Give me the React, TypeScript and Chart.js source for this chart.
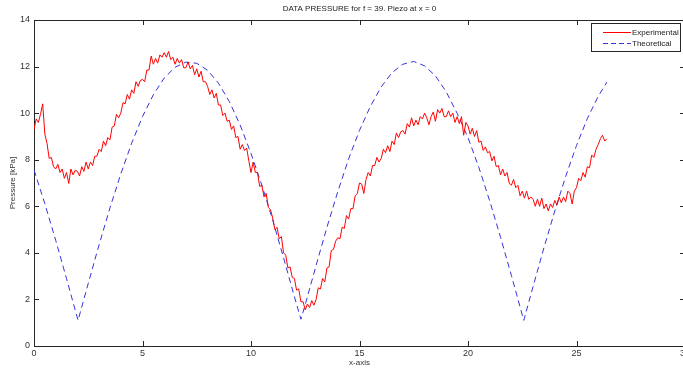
import { useEffect, useRef } from "react";
import { Chart, registerables } from "chart.js";

Chart.register(...registerables);

const chartTitle = "DATA PRESSURE for f = 39. Piezo at x = 0";
const xAxisTitle = "x-axis";
const yAxisTitle = "Pressure [kPa]";
const seriesNames = ["Experimental", "Theoretical"];
const xTickValues = [0, 5, 10, 15, 20, 25, 30];
const yTickValues = [0, 2, 4, 6, 8, 10, 12, 14];

// Experimental samples, one every 0.1 on the x-axis starting at 0
const expStep = 0.1;
const experimentalValues = [
  9.3, 9.75, 9.6, 9.95, 10.4, 9.1, 8.7, 8.05, 8.1, 7.7,
  7.6, 7.8, 7.45, 7.6, 7.2, 7.45, 6.98, 7.6, 7.35, 7.55,
  7.5, 7.3, 7.7, 7.5, 7.9, 7.6, 7.9, 7.75, 8.15, 8.15,
  8.45, 8.35, 8.8, 8.6, 8.95, 8.85, 9.4, 9.45, 9.95, 9.8,
  10.0, 10.45, 10.4, 10.8, 10.6, 11.0, 10.85, 11.35, 11.15, 11.4,
  11.45, 11.35, 11.85, 11.85, 12.45, 12.1, 12.35, 12.15, 12.5, 12.4,
  12.6, 12.4, 12.65, 12.3, 12.4, 12.1, 12.35, 12.15, 12.3, 11.95,
  11.95, 12.2, 11.9, 12.05, 11.65, 11.9, 11.55, 11.8, 11.35, 11.35,
  11.15, 10.8, 11.0, 10.65, 10.85, 10.35, 10.35, 9.9, 10.0, 9.65,
  9.7, 9.3, 9.45, 8.95, 9.0, 8.45, 8.65, 8.4, 8.5, 7.95,
  7.45, 7.9, 7.45, 7.45, 6.85, 6.9, 6.4, 6.55, 5.95, 5.85,
  5.5, 5.0, 5.1, 4.6, 4.7, 4.0, 3.9, 3.35, 3.4, 2.95,
  2.9, 2.4, 2.45, 1.9, 1.9, 1.55, 1.8, 1.65, 1.95, 1.75,
  2.0, 2.5, 2.45, 2.9, 2.75, 3.35, 3.4, 4.1, 4.15, 4.5,
  4.65, 4.6, 5.1, 5.05, 5.6, 5.45, 5.9, 5.9, 6.45, 6.55,
  7.0, 6.95, 6.55, 7.15, 7.45, 7.3, 7.75, 7.75, 8.1, 7.9,
  8.05, 8.45, 8.3, 8.6, 8.35, 8.8, 8.65, 9.15, 8.95, 9.2,
  9.25, 9.1, 9.55, 9.4, 9.8, 9.45, 9.7, 9.5, 9.85, 9.75,
  10.0, 9.8, 9.5, 9.85, 10.05, 9.65, 10.15, 10.0, 10.2, 9.85,
  9.85, 10.1, 9.85, 10.0, 9.6, 9.85, 9.55, 9.85, 9.05, 9.6,
  9.45, 9.1, 9.35, 9.0, 9.25, 8.75, 8.8, 8.4, 8.55, 8.3,
  8.35, 7.95, 8.15, 7.7, 7.75, 7.35, 7.6, 7.3, 7.45, 7.0,
  6.9, 7.15, 6.8, 6.9, 6.45, 6.65, 6.35, 6.65, 6.3, 6.4,
  6.3, 6.0, 6.3, 6.0, 6.35, 5.9, 6.1, 5.8, 6.1, 5.95,
  6.25, 6.05, 6.4, 6.15, 6.4, 6.2, 6.65, 6.55, 6.1, 6.65,
  6.8, 7.2, 7.1, 7.45, 7.25, 7.7, 7.65, 8.2, 8.1, 8.45,
  8.65, 8.9, 9.05, 8.8, 8.9,
];

const theoreticalX = [
  0, 0.5, 1, 1.5, 2.03, 2.5, 3, 3.5, 4, 4.5, 5, 5.5, 6, 6.5, 7, 7.5, 8, 8.5, 9, 9.5,
  10, 10.5, 11, 11.5, 12, 12.3, 12.5, 13, 13.5, 14, 14.5, 15, 15.5, 16, 16.5, 17, 17.5,
  18, 18.5, 19, 19.5, 20, 20.5, 21, 21.5, 22, 22.57, 23, 23.5, 24, 24.5, 25, 25.5, 26, 26.4,
];
const theoreticalValues = [
  7.56, 6.11, 4.54, 2.89, 1.1, 2.69, 4.35, 5.93, 7.39, 8.71, 9.85, 10.79, 11.51, 11.97, 12.19, 12.14, 11.84, 11.29, 10.5, 9.49,
  8.27, 6.91, 5.41, 3.79, 2.12, 1.15, 1.78, 3.46, 5.1, 6.63, 8.04, 9.26, 10.29, 11.13, 11.74, 12.1, 12.22,
  12.03, 11.6, 10.91, 9.99, 8.95, 7.67, 6.23, 4.67, 3.03, 1.1, 2.56, 4.22, 5.8, 7.28, 8.61, 9.77, 10.72, 11.33,
];

const FONT = "'Liberation Sans', Arial, sans-serif";
const expColor = "#ff0000";
const theoColor = "#3434dc";
const axisColor = "#262626";

const framePlugin = {
  id: "matlabFrame",
  afterDraw(chart: any) {
    const { ctx, chartArea } = chart;
    const { left, right, top, bottom } = chartArea;
    const xs = chart.scales.x;
    const ys = chart.scales.y;
    ctx.save();
    ctx.strokeStyle = axisColor;
    ctx.lineWidth = 1;
    ctx.beginPath();
    ctx.moveTo(left, Math.round(top) + 0.5);
    ctx.lineTo(right, Math.round(top) + 0.5);
    ctx.moveTo(Math.round(right) + 0.5, top);
    ctx.lineTo(Math.round(right) + 0.5, bottom);
    const tl = 5;
    xTickValues.forEach((v) => {
      const px = Math.round(xs.getPixelForValue(v)) + 0.5;
      ctx.moveTo(px, bottom);
      ctx.lineTo(px, bottom - tl);
      ctx.moveTo(px, top);
      ctx.lineTo(px, top + tl);
    });
    yTickValues.forEach((v) => {
      const py = Math.round(ys.getPixelForValue(v)) + 0.5;
      ctx.moveTo(left, py);
      ctx.lineTo(left + tl, py);
      ctx.moveTo(right, py);
      ctx.lineTo(right - tl, py);
    });
    ctx.stroke();

    // title
    ctx.fillStyle = "#222";
    ctx.font = `8px ${FONT}`;
    ctx.textAlign = "center";
    ctx.textBaseline = "middle";
    ctx.fillText(chartTitle, (left + right) / 2, 9);

    // legend
    const bx = 591.5, by = 23.5, bw = 89, bh = 28;
    ctx.fillStyle = "#fff";
    ctx.fillRect(bx, by, bw, bh);
    ctx.strokeStyle = axisColor;
    ctx.strokeRect(bx, by, bw, bh);
    const rows = [
      { name: seriesNames[0], color: expColor, dash: [] as number[], y: 32.5 },
      { name: seriesNames[1], color: theoColor, dash: [5, 3], y: 43.5 },
    ];
    rows.forEach((r) => {
      ctx.beginPath();
      ctx.setLineDash(r.dash);
      ctx.strokeStyle = r.color;
      ctx.moveTo(603, r.y);
      ctx.lineTo(631, r.y);
      ctx.stroke();
      ctx.setLineDash([]);
      ctx.fillStyle = "#222";
      ctx.textAlign = "left";
      ctx.textBaseline = "middle";
      ctx.fillText(r.name, 632, r.y);
    });
    ctx.restore();
  },
};

export default function App() {
  const ref = useRef<HTMLCanvasElement | null>(null);
  useEffect(() => {
    if (!ref.current) return;
    const expData = experimentalValues.map((y, i) => ({ x: +(i * expStep).toFixed(2), y }));
    const theoData = theoreticalValues.map((y, i) => ({ x: theoreticalX[i], y }));
    const chart = new Chart(ref.current, {
      type: "line",
      data: {
        datasets: [
          {
            label: seriesNames[0],
            data: expData,
            borderColor: expColor,
            borderWidth: 1,
            pointRadius: 0,
            tension: 0,
            fill: false,
          },
          {
            label: seriesNames[1],
            data: theoData,
            borderColor: theoColor,
            borderWidth: 1,
            borderDash: [6, 4],
            pointRadius: 0,
            tension: 0,
            fill: false,
          },
        ],
      },
      options: {
        responsive: false,
        animation: false,
        devicePixelRatio: 1,
        layout: { padding: { left: 0, right: 15, top: 20, bottom: 0 } },
        plugins: {
          legend: { display: false },
          title: { display: false },
          tooltip: { enabled: false },
        },
        scales: {
          x: {
            type: "linear",
            min: 0,
            max: 30,
            afterFit: (s: any) => {
              s.height = 24;
            },
            afterBuildTicks: (s: any) => {
              s.ticks = xTickValues.map((v) => ({ value: v }));
            },
            ticks: {
              font: { family: FONT, size: 9 },
              color: "#333",
              padding: 2,
              maxRotation: 0,
              autoSkip: false,
            },
            grid: { display: true, drawOnChartArea: false, drawTicks: false },
            border: { display: true, color: axisColor, width: 1 },
            title: {
              display: true,
              text: xAxisTitle,
              font: { family: FONT, size: 8 },
              color: "#333",
              padding: { top: 0, bottom: 2 },
            },
          },
          y: {
            type: "linear",
            min: 0,
            max: 14,
            afterFit: (s: any) => {
              s.width = 34;
            },
            afterBuildTicks: (s: any) => {
              s.ticks = yTickValues.map((v) => ({ value: v }));
            },
            ticks: {
              font: { family: FONT, size: 9 },
              color: "#333",
              padding: 4,
            },
            grid: { display: true, drawOnChartArea: false, drawTicks: false },
            border: { display: true, color: axisColor, width: 1 },
            title: {
              display: true,
              text: yAxisTitle,
              font: { family: FONT, size: 8 },
              color: "#333",
              padding: { top: 8, bottom: 0 },
            },
          },
        },
      },
      plugins: [framePlugin],
    });
    return () => chart.destroy();
  }, []);
  return (
    <div
      style={{
        position: "absolute",
        left: 0,
        top: 0,
        width: 683,
        height: 370,
        overflow: "hidden",
        background: "#fff",
      }}
    >
      <canvas ref={ref} width={700} height={370} style={{ width: 700, height: 370, display: "block" }} />
    </div>
  );
}
